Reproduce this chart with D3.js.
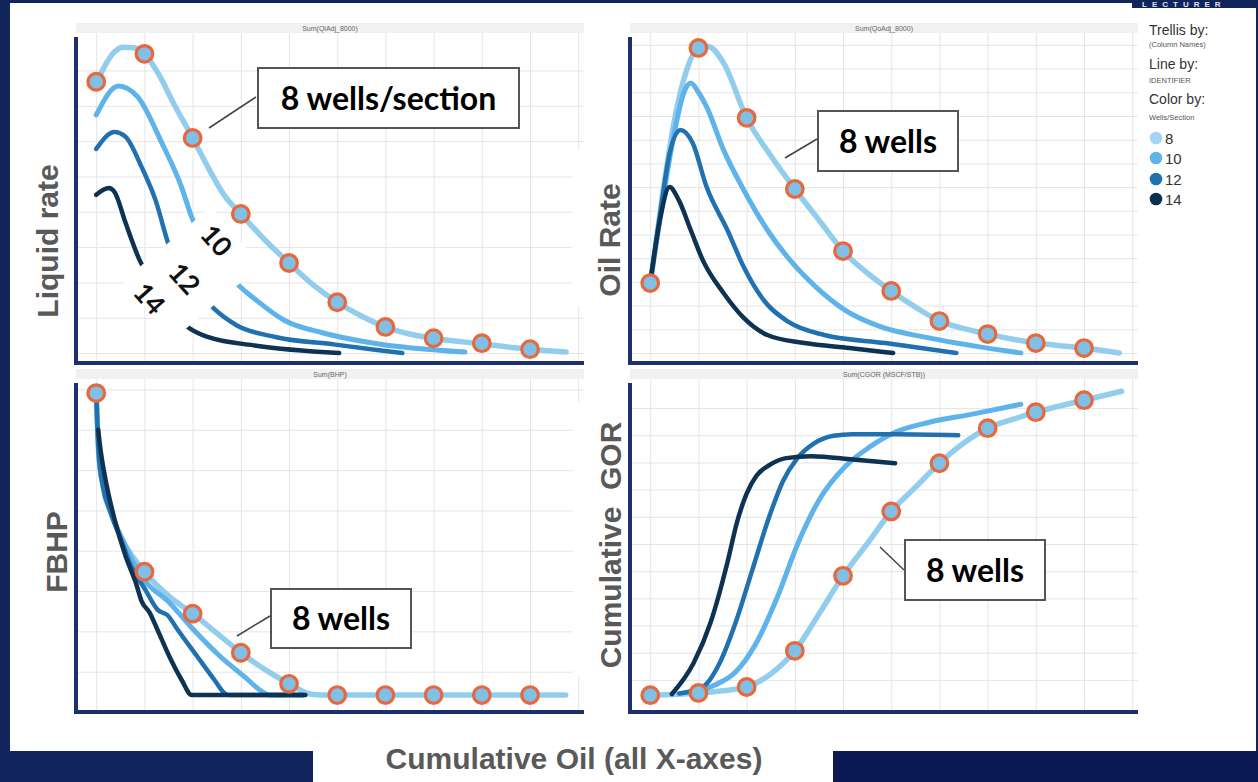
<!DOCTYPE html>
<html><head><meta charset="utf-8">
<script src="https://cdn.jsdelivr.net/npm/d3@7"></script>
<style>html,body{margin:0;padding:0;background:#12245c;} svg{display:block}</style>
</head><body><svg id="c" width="1258" height="782"></svg>
<script>
// ---------- data ----------
const wellGroups = ["8", "10", "12", "14"];
const xTicks = [0,1,2,3,4,5,6,7,8,9,10];
const markerX = [0,1,2,3,4,5,6,7,8,9];

// Liquid rate (top-left)
const liquid8  = [[0,76.5],[0.38,85.3],[0.55,86.6],[0.78,86.4],[1,84.7],[1.3,78.8],[1.6,70.8],[2,60.9],[2.35,51.8],[2.65,44.8],[3,39.4],[3.5,32.0],[4,25.5],[4.5,19.3],[5,14.4],[5.5,10.5],[6,7.4],[6.5,5.4],[7,4.2],[8,2.6],[9,1.1],[9.75,0.3]];
const liquid10 = [[0,67.4],[0.46,75.6],[0.86,72.5],[1.36,59.5],[1.77,47.0],[1.98,38.5],[2.43,28.6],[2.89,20.1],[3.32,15.0],[3.9,9.3],[4.71,5.7],[5.76,2.8],[7.65,0.3]];
const liquid12 = [[0,57.8],[0.38,62.6],[0.61,61.2],[0.94,52.7],[1.23,43.3],[1.52,30.0],[1.98,20.1],[2.45,12.5],[2.91,7.9],[3.74,4.5],[4.96,2.4],[6.35,0]];
const liquid14 = [[0,44.8],[0.26,46.7],[0.38,45.6],[0.61,36.8],[0.9,26.3],[1.38,16.4],[1.85,7.9],[2.33,4.5],[3.32,2.1],[5.04,0]];
const liquidMarks = [76.8,84.7,60.9,39.4,25.5,14.4,7.4,4.2,2.8,1.1];
const liquidYTicks = [0,10,20,30,40,50,60,70,80];

// Oil rate (top-right)
const oil8  = [[0,29.5],[0.25,66],[0.5,98],[0.75,119],[1,128.7],[1.2,129.3],[1.52,122.4],[2,99.2],[2.52,82.7],[3,69.2],[3.5,56.1],[4,43.0],[4.5,33.8],[5,26.2],[5.47,19.8],[6,13.5],[6.47,10.5],[7,8.0],[8,4.2],[9,2.1],[9.73,0]];
const oil10 = [[0,29.5],[0.25,63],[0.5,93],[0.7,110],[0.84,113.9],[1.0,110],[1.17,103.8],[1.52,85.7],[1.94,68.8],[2.43,51.9],[2.95,38],[3.44,27.8],[4.04,18.1],[4.79,11],[5.81,6.3],[7.69,0]];
const oil12 = [[0,29.5],[0.2,58],[0.4,84],[0.63,94.1],[0.88,88.6],[1.17,70],[1.6,51.9],[1.94,36.3],[2.35,22.4],[2.87,13.1],[3.61,7.6],[4.88,4.2],[6.35,0]];
const oil14 = [[0,29.5],[0.2,56],[0.4,70],[0.59,64.6],[0.84,51.9],[1.09,39.2],[1.52,25.3],[1.94,14.8],[2.43,7.6],[3.2,4.2],[4.13,2.1],[5.04,0]];
const oilMarks = [29.5,128.7,99.2,69.2,43.0,26.2,13.5,8.0,4.2,2.1];
const oilYTicks = [0,10,20,30,40,50,60,70,80,90,100,110,120,130];

// FBHP (bottom-left)
const bhp8  = [[0,791],[0.02,726],[0.05,644],[0.14,560],[0.3,495],[0.54,428],[1,348],[1.52,286],[2,244],[2.49,197],[3,147],[3.57,100],[4,70],[4.46,44],[4.7,42],[9.74,42]];
const bhp10 = [[0,791],[0.02,726],[0.05,644],[0.14,560],[0.3,495],[0.54,428],[0.94,336],[1.52,271],[2.02,204],[2.58,137],[3.08,87],[3.45,50],[3.6,42],[4.3,42]];
const bhp12 = [[0,791],[0.02,726],[0.05,644],[0.14,560],[0.3,495],[0.54,420],[0.69,371],[1.02,303],[1.27,254],[1.48,240],[1.69,204],[2.1,137],[2.45,80],[2.66,47],[2.75,42],[4.3,42]];
const bhp14 = [[0.04,700],[0.09,650],[0.22,560],[0.38,478],[0.61,386],[0.82,321],[0.94,275],[1.11,246],[1.27,204],[1.52,137],[1.77,80],[1.98,42],[4.34,42]];
const bhpMarks = [791,348,244,147,70,42,42,42,42,42];
const bhpYTicks = [100,200,300,400,500,600,700,800];

// Cumulative GOR (bottom-right)
const gor8  = [[0,4.4],[1,5.2],[1.5,6],[2,7.4],[2.47,11.8],[3,20.7],[3.51,34.5],[4,48.3],[4.52,60.5],[5,72],[5.52,81.2],[6,89.7],[6.47,96.7],[7,102.6],[7.53,105.9],[8,108.5],[9,112.9],[9.78,116.2]];
const gor10 = [[0.9,5.2],[1.34,8.1],[1.77,12.9],[2.2,23.6],[2.64,40.6],[3.07,60.5],[3.51,76.4],[4.05,88.6],[4.57,95.9],[5.08,101.1],[5.79,104.8],[6.66,107.7],[7.69,111.4]];
const gor12 = [[0.6,5.0],[1.09,7.4],[1.44,16.2],[1.77,31],[2.12,50.6],[2.47,70.1],[2.75,83],[3.05,91.5],[3.4,97],[3.8,99.8],[4.2,100.4],[5.08,100.4],[6.39,100]];
const gor14 = [[0.45,4.8],[0.9,16.2],[1.25,31],[1.6,53.1],[1.8,68],[2.0,78.5],[2.2,85],[2.47,89],[2.82,91.6],[3.34,92.3],[4.21,91.1],[5.08,89.7]];
const gorMarks = [4.4,5.2,7.4,20.7,48.3,72,89.7,102.6,108.5,112.9];
const gorYTicks = [10,20,30,40,50,60,70,80,90,100,110];

// ---------- styles ----------
const lineColors = ["#93cdee", "#5db3ea", "#2171b0", "#0e3251"];
const legendColors = ["#a2d4f3", "#5cb4ea", "#1f72b0", "#0c2f4f"];
const lineWidths = [5.5, 5, 4.5, 4.5];
const navy = "#12245c";
const axisNavy = "#1c2f6e";
const grey = "#595959";

const svg = d3.select("#c");

// background frame
svg.append("rect").attr("x",0).attr("y",0).attr("width",1258).attr("height",782).attr("fill",navy);
svg.append("rect").attr("x",10).attr("y",3).attr("width",1246).attr("height",748).attr("fill","#fff");
svg.append("rect").attr("x",313).attr("y",750).attr("width",520).attr("height",32).attr("fill","#fff");
svg.append("rect").attr("x",833).attr("y",751).attr("width",425).attr("height",31).attr("fill","#0b1a55");
// top-right logo strip
svg.append("rect").attr("x",1132).attr("y",0).attr("width",126).attr("height",8).attr("fill",navy);
svg.append("text").attr("x",1142).attr("y",7).
  attr("font-family","Liberation Sans, Arial, sans-serif").attr("font-weight","bold")
  .attr("font-size",8).attr("letter-spacing",5).attr("fill","#dfe4f0").text("LECTURER");

const lineGen = (x, y) => d3.line().x(d => x(d[0])).y(d => y(d[1])).curve(d3.curveMonotoneX);

function panel(cfg) {
  const {L, T, R, B, header, yDomain, yTicks} = cfg;
  const x = d3.scaleLinear().domain([-0.42, 10.12]).range([L, R]);
  const y = d3.scaleLinear().domain(yDomain).range([B, T]);
  const g = svg.append("g");
  // header strip
  g.append("rect").attr("x",L).attr("y",T-10).attr("width",R-L).attr("height",10).attr("fill","#f1f1f1");
  g.append("text").attr("x",(L+R)/2).attr("y",T-2.5).attr("text-anchor","middle")
    .attr("font-family","Liberation Sans, Arial, sans-serif").attr("font-size",7).attr("fill","#666").text(header);
  // grid
  const gx = g.append("g").attr("transform",`translate(0,${B})`)
    .call(d3.axisBottom(x).tickValues(xTicks).tickSize(-(B-T)).tickFormat(""));
  const gy = g.append("g").attr("transform",`translate(${L},0)`)
    .call(d3.axisLeft(y).tickValues(yTicks).tickSize(-(R-L)).tickFormat(""));
  [gx, gy].forEach(a => { a.select(".domain").remove(); a.selectAll("line").attr("stroke","#e5e5e5").attr("stroke-width",1); });
  cfg.x = x; cfg.y = y; cfg.g = g;
  return cfg;
}

function drawSeries(cfg) {
  const {x, y, g, series} = cfg;
  const lg = lineGen(x, y);
  series.forEach((s, i) => {
    g.append("path").attr("d", lg(s)).attr("fill","none").attr("stroke",lineColors[i])
      .attr("stroke-width",lineWidths[i]).attr("stroke-linecap","round").attr("stroke-linejoin","round");
  });
}

function drawAxesAndMarks(cfg) {
  const {x, y, g, marks, L, T, R, B} = cfg;
  g.append("line").attr("x1",L).attr("x2",L).attr("y1",T+4).attr("y2",B+2).attr("stroke",axisNavy).attr("stroke-width",4);
  g.append("line").attr("x1",L-2).attr("x2",R).attr("y1",B).attr("y2",B).attr("stroke",axisNavy).attr("stroke-width",4);
  g.selectAll("circle.mk").data(markerX.map((u,i)=>[u,marks[i]])).enter().append("circle")
    .attr("class","mk").attr("cx",d=>x(d[0])).attr("cy",d=>y(d[1])).attr("r",8.3)
    .attr("fill","#80bfe6").attr("stroke","#e8683b").attr("stroke-width",3.2);
}

const pTL = panel({L:76,T:33,R:584,B:363,header:"Sum(QlAdj_8000)",yDomain:[-2.8,90.6],yTicks:liquidYTicks,series:[liquid8,liquid10,liquid12,liquid14],marks:liquidMarks});
const pTR = panel({L:630,T:33,R:1138,B:363,header:"Sum(QoAdj_8000)",yDomain:[-4.2,135],yTicks:oilYTicks,series:[oil8,oil10,oil12,oil14],marks:oilMarks});
const pBL = panel({L:76,T:379,R:584,B:712,header:"Sum(BHP)",yDomain:[0,826],yTicks:bhpYTicks,series:[bhp8,bhp10,bhp12,bhp14],marks:bhpMarks});
const pBR = panel({L:630,T:379,R:1138,B:712,header:"Sum(CGOR (MSCF/STB))",yDomain:[-1.8,120.7],yTicks:gorYTicks,series:[gor8,gor10,gor12,gor14],marks:gorMarks});

[pTL,pTR,pBL,pBR].forEach(drawSeries);

// white label backgrounds
svg.append("rect").attr("x",572).attr("y",150).attr("width",55).attr("height",156).attr("fill","#fff");
svg.append("rect").attr("x",573).attr("y",402).attr("width",54).attr("height",275).attr("fill","#fff");
svg.append("rect").attr("transform","translate(188,272) rotate(50)")
  .attr("x",-35).attr("y",-60).attr("width",77).attr("height",116).attr("fill","#fff");

[pTL,pTR,pBL,pBR].forEach(drawAxesAndMarks);

// series labels in top-left
const sLabels = [["10",217,240],["12",185,278],["14",150,298]];
svg.selectAll("text.sl").data(sLabels).enter().append("text").attr("class","sl")
  .attr("transform",d=>`translate(${d[1]},${d[2]}) rotate(48)`)
  .attr("text-anchor","middle").attr("dominant-baseline","central")
  .attr("font-family","Lato, sans-serif").attr("font-weight",700).attr("font-size",27).attr("fill","#111").text(d=>d[0]);

// axis titles
const titles = [["Liquid rate",58,241],["Oil Rate",620,240],["FBHP",67,552],["Cumulative  GOR",621,545]];
svg.selectAll("text.yt").data(titles).enter().append("text").attr("class","yt")
  .attr("transform",d=>`translate(${d[1]},${d[2]}) rotate(-90)`).attr("text-anchor","middle")
  .attr("font-family","Liberation Sans, Arial, sans-serif").attr("font-weight","bold").attr("font-size",30)
  .attr("fill",grey).attr("xml:space","preserve").text(d=>d[0]);
svg.append("text").attr("x",574).attr("y",769).attr("text-anchor","middle")
  .attr("font-family","Liberation Sans, Arial, sans-serif").attr("font-weight","bold").attr("font-size",30)
  .attr("fill",grey).text("Cumulative Oil (all X-axes)");

// callouts
const callouts = [
  {text:"8 wells/section", bx:258, by:68, bw:261, bh:60, l:[209,128,256,97]},
  {text:"8 wells", bx:818, by:111, bw:140, bh:60, l:[785,158,817,139]},
  {text:"8 wells", bx:271, by:589, bw:140, bh:59, l:[237,636,270,616]},
  {text:"8 wells", bx:905, by:540, bw:140, bh:60, l:[880,547,904,570]}
];
callouts.forEach(c => {
  svg.append("line").attr("x1",c.l[0]).attr("y1",c.l[1]).attr("x2",c.l[2]).attr("y2",c.l[3]).attr("stroke","#444").attr("stroke-width",1.5);
  svg.append("rect").attr("x",c.bx).attr("y",c.by).attr("width",c.bw).attr("height",c.bh)
    .attr("fill","#fff").attr("stroke","#555").attr("stroke-width",2);
  svg.append("text").attr("x",c.bx+c.bw/2).attr("y",c.by+c.bh/2+11.5).attr("text-anchor","middle")
    .attr("font-family","Lato, sans-serif").attr("font-weight",700).attr("font-size",32).attr("fill","#000").text(c.text);
});

// legend
const legTexts = [["Trellis by:",35,14,"#333"],["(Column Names)",47,7.5,"#555"],["Line by:",69,14,"#333"],["IDENTIFIER",83,7.5,"#555"],["Color by:",104,14,"#333"],["Wells/Section",120,7.5,"#555"]];
svg.selectAll("text.lg").data(legTexts).enter().append("text").attr("class","lg")
  .attr("x",1149).attr("y",d=>d[1]).attr("font-family","Liberation Sans, Arial, sans-serif")
  .attr("font-size",d=>d[2]).attr("fill",d=>d[3]).text(d=>d[0]);
const legY = [138,158,179,199];
wellGroups.forEach((w,i) => {
  svg.append("circle").attr("cx",1156).attr("cy",legY[i]).attr("r",6.3).attr("fill",legendColors[i]);
  svg.append("text").attr("x",1165).attr("y",legY[i]+5.5).attr("font-family","Liberation Sans, Arial, sans-serif")
    .attr("font-size",15).attr("fill","#333").text(w);
});
</script></body></html>
